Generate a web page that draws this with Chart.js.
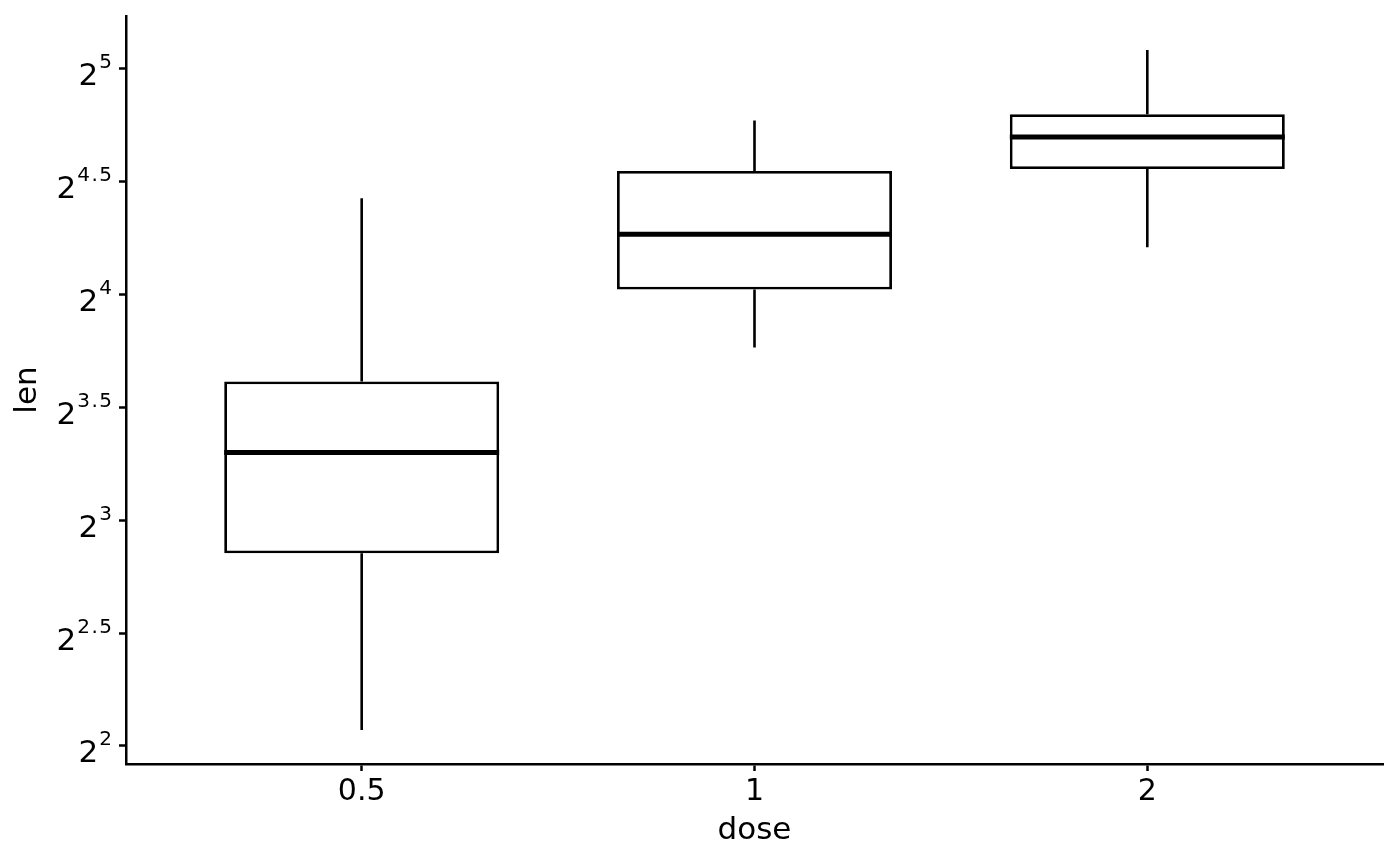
<!DOCTYPE html>
<html>
<head>
<meta charset="utf-8">
<script src="https://cdn.jsdelivr.net/npm/chart.js@4.4.1/dist/chart.umd.min.js"></script>
<style>
  html, body { margin: 0; padding: 0; background: #ffffff; }
  #wrap { width: 1400px; height: 866px; }
</style>
</head>
<body>
<div id="wrap"><canvas id="chart" width="1400" height="866"></canvas></div>
<script>
// ToothGrowth: len by dose (box summary values)
const doses = ['0.5', '1', '2'];
const doseIndex = [1, 2, 3];
const lenMin = [4.2, 13.6, 18.5];
const lenQ1 = [7.225, 16.25, 23.525];
const lenMedian = [9.85, 19.25, 25.95];
const lenQ3 = [12.25, 23.375, 27.825];
const lenMax = [21.5, 27.3, 33.9];
const yTickExponents = [2, 2.5, 3, 3.5, 4, 4.5, 5];
const yTickLabels = ['2', '2.5', '3', '3.5', '4', '4.5', '5'];

const FONT = "'DejaVu Sans', sans-serif";

// ggplot style 5% expansion on log2 scale
const lo = Math.log2(Math.min(...lenMin));
const hi = Math.log2(Math.max(...lenMax));
const pad = (hi - lo) * 0.05;
const yMin = Math.pow(2, lo - pad);
const yMax = Math.pow(2, hi + pad);

// whiskers + median lines, placed via the bar elements and y scale
const boxExtras = {
  id: 'boxExtras',
  afterDatasetsDraw(chart) {
    const ctx = chart.ctx;
    const y = chart.scales.y;
    const meta = chart.getDatasetMeta(0);
    ctx.save();
    ctx.strokeStyle = '#000000';
    meta.data.forEach((bar, i) => {
      const cx = bar.x;
      const half = bar.width / 2;
      ctx.lineWidth = 2.6;
      ctx.beginPath();
      ctx.moveTo(cx, y.getPixelForValue(lenMax[i]));
      ctx.lineTo(cx, y.getPixelForValue(lenQ3[i]));
      ctx.moveTo(cx, y.getPixelForValue(lenQ1[i]));
      ctx.lineTo(cx, y.getPixelForValue(lenMin[i]));
      ctx.stroke();
      ctx.lineWidth = 5;
      const my = y.getPixelForValue(lenMedian[i]);
      ctx.beginPath();
      ctx.moveTo(cx - half, my);
      ctx.lineTo(cx + half, my);
      ctx.stroke();
    });
    ctx.restore();
  }
};

// y tick labels as 2^k with superscript exponent
const powerLabels = {
  id: 'powerLabels',
  afterDraw(chart) {
    const ctx = chart.ctx;
    const y = chart.scales.y;
    const right = chart.chartArea.left - 14;
    const gap = 1.5;
    ctx.save();
    ctx.fillStyle = '#000000';
    ctx.textBaseline = 'alphabetic';
    ctx.textAlign = 'left';
    y.ticks.forEach((t, i) => {
      const py = y.getPixelForValue(t.value);
      const chars = yTickLabels[i].split('');
      ctx.font = '20px ' + FONT;
      const widths = chars.map(c => ctx.measureText(c).width);
      const ew = widths.reduce((a, b) => a + b, 0) + gap * (chars.length - 1);
      let ex = right - ew;
      chars.forEach((c, k) => {
        ctx.fillText(c, ex, py - 0.5);
        ex += widths[k] + gap;
      });
      ctx.font = '31px ' + FONT;
      const bw = ctx.measureText('2').width;
      ctx.fillText('2', right - ew - bw - 1, py + 16.5);
    });
    ctx.restore();
  }
};

new Chart(document.getElementById('chart'), {
  type: 'bar',
  data: {
    datasets: [{
      label: 'len',
      data: doseIndex.map((d, i) => ({ x: d, y: [lenQ1[i], lenQ3[i]] })),
      backgroundColor: '#ffffff',
      borderColor: '#000000',
      borderWidth: 2.8,
      borderSkipped: false,
      barPercentage: 0.7,
      categoryPercentage: 1.0
    }]
  },
  options: {
    responsive: false,
    animation: false,
    devicePixelRatio: 1,
    layout: { padding: { top: 16, right: 17, left: 0, bottom: 0 } },
    plugins: {
      legend: { display: false },
      tooltip: { enabled: false }
    },
    scales: {
      x: {
        type: 'linear',
        min: 0.4,
        max: 3.6,
        offset: false,
        afterBuildTicks: (scale) => {
          scale.ticks = doseIndex.map(v => ({ value: v }));
        },
        afterFit: (scale) => {
          scale.height = 102;
          scale.paddingLeft = 0;
          scale.paddingRight = 0;
        },
        ticks: {
          callback: (value) => doses[doseIndex.indexOf(value)],
          color: '#000000',
          font: { family: FONT, size: 30 },
          padding: 3,
          maxRotation: 0
        },
        grid: {
          display: true,
          offset: false,
          drawOnChartArea: false,
          drawTicks: true,
          tickLength: 7,
          tickWidth: 2.5,
          tickColor: '#000000',
          color: '#000000'
        },
        border: { display: true, color: '#000000', width: 2.5 },
        title: {
          display: true,
          text: 'dose',
          color: '#000000',
          font: { family: FONT, size: 31 },
          padding: { top: 0, bottom: 16 }
        }
      },
      y: {
        type: 'logarithmic',
        min: yMin,
        max: yMax,
        bounds: 'data',
        afterBuildTicks: (scale) => {
          scale.ticks = yTickExponents.map(e => ({ value: Math.pow(2, e) }));
        },
        afterFit: (scale) => {
          scale.width = 126;
          scale.paddingTop = 0;
          scale.paddingBottom = 0;
        },
        ticks: {
          callback: () => '',
          font: { family: FONT, size: 1 },
          padding: 0
        },
        grid: {
          display: true,
          drawOnChartArea: false,
          drawTicks: true,
          tickLength: 7,
          tickWidth: 2.5,
          tickColor: '#000000',
          color: '#000000'
        },
        border: { display: true, color: '#000000', width: 2.5 },
        title: {
          display: true,
          text: 'len',
          color: '#000000',
          font: { family: FONT, size: 31 },
          padding: { top: 9, bottom: 0 }
        }
      }
    }
  },
  plugins: [boxExtras, powerLabels]
});
</script>
</body>
</html>
